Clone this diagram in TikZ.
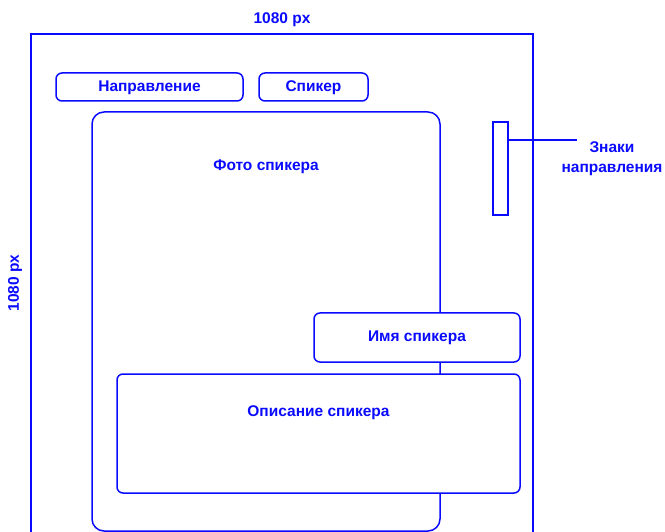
\documentclass[tikz,border=0pt]{standalone}
\usepackage{fontspec}
\setmainfont{Liberation Sans}
\usetikzlibrary{positioning}
\definecolor{markblue}{RGB}{10,10,255}
\tikzset{
  box/.style={draw=markblue, line width=1.5pt, fill=white, rounded corners=6pt, inner sep=0pt},
  lbl/.style={text=markblue, font=\bfseries\fontsize{15.5}{20}\selectfont, inner sep=1pt},
}

\begin{document}
\begin{tikzpicture}[x=1pt, y=-1pt]
\useasboundingbox (0,0) rectangle (665,532);
% outer frame, open at the bottom
\draw [markblue, line width=1.5pt] (31,540) -- (31,34) -- (533,34) -- (533,540);
\node at (282,20) [lbl] (wlabel) {1080 px};
\node at (15,283) [lbl, rotate=90] (hlabel) {1080 px};
% tabs
\node at (149.5,87) [box, minimum width=187pt, minimum height=28pt] (napr) {};
\node at (149.5,88) [lbl] {Направление};
\node at (313.5,87) [box, minimum width=109pt, minimum height=28pt] (spk) {};
\node at (313.5,88) [lbl] {Спикер};
% photo
\node at (266,321.5) [box, rounded corners=12pt, minimum width=348pt, minimum height=419pt] (photo) {};
\node [lbl, below=47pt of photo.north] (phototext) {Фото спикера};
% direction signs
\node at (500.5,168.5) [box, rounded corners=0pt, fill=none, minimum width=15pt, minimum height=93pt] (signs) {};
\coordinate (signend) at (577,140);
\draw [markblue, line width=1.5pt] (signs.east |- signend) -- (signend);
\node at (612,159) [lbl, align=center] (signtext) {Знаки\\направления};
% name and description
\node at (417,337.5) [box, minimum width=206pt, minimum height=49pt] (name) {};
\node at (name) [lbl] {Имя спикера};
\node at (318.5,433.5) [box, minimum width=403pt, minimum height=119pt] (descr) {};
\node [lbl, below=31pt of descr.north] (descrtext) {Описание спикера};
\end{tikzpicture}
\end{document}
